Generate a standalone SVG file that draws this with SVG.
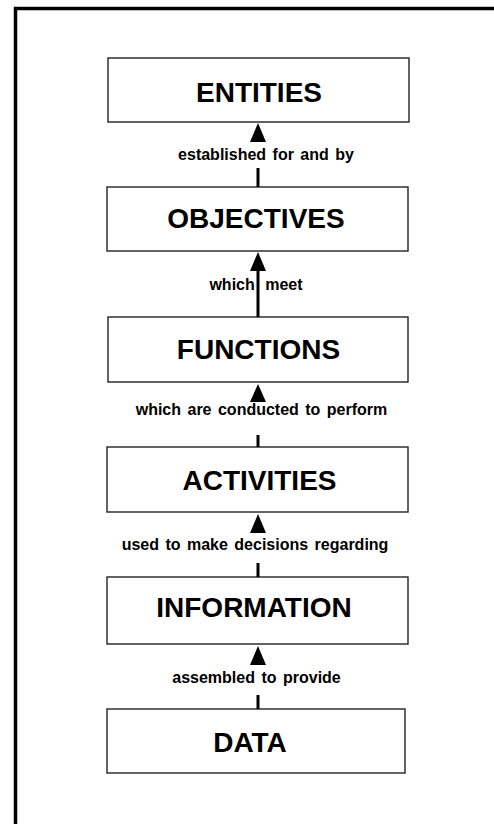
<svg xmlns="http://www.w3.org/2000/svg" width="494" height="824" viewBox="0 0 494 824">
  <style>
    .box { fill: #fff; stroke: #222; stroke-width: 1.4; }
    .name { font-family: "Liberation Sans", Arial, sans-serif; font-weight: bold; font-size: 28px; fill: #000; text-anchor: middle; }
    .lbl { font-family: "Liberation Sans", Arial, sans-serif; font-weight: bold; font-size: 16px; fill: #000; text-anchor: middle; word-spacing: 2px; }
    .stem { stroke: #000; stroke-width: 3; fill: none; }
    .head { fill: #000; }
  </style>
  <rect width="494" height="824" fill="#fff"/>
  <!-- page frame, open at right and bottom -->
  <path d="M15.5 830 V8.5 H500" fill="none" stroke="#000" stroke-width="3.5"/>

  <g id="entities">
    <rect class="box" x="108" y="58" width="301" height="64"/>
    <text class="name" x="259" y="102">ENTITIES</text>
  </g>
  <g id="objectives">
    <rect class="box" x="107" y="187" width="301" height="64"/>
    <text class="name" x="256" y="228">OBJECTIVES</text>
  </g>
  <g id="functions">
    <rect class="box" x="108" y="317" width="300" height="65"/>
    <text class="name" x="258.5" y="359">FUNCTIONS</text>
  </g>
  <g id="activities">
    <rect class="box" x="107" y="447" width="301" height="65"/>
    <text class="name" x="259.5" y="490">ACTIVITIES</text>
  </g>
  <g id="information">
    <rect class="box" x="107" y="577" width="301" height="67"/>
    <text class="name" x="254" y="617">INFORMATION</text>
  </g>
  <g id="data">
    <rect class="box" x="107" y="709" width="298" height="64"/>
    <text class="name" x="250" y="752">DATA</text>
  </g>

  <g id="connectors">
    <!-- data -> information -->
    <path class="stem" d="M258 709 V695"/>
    <path class="head" d="M258 646 L250 665 H266 Z"/>
    <text class="lbl" x="256.5" y="683">assembled to provide</text>
    <!-- information -> activities -->
    <path class="stem" d="M258 577 V563"/>
    <path class="head" d="M258 514 L250 533 H266 Z"/>
    <text class="lbl" x="255" y="550">used to make decisions regarding</text>
    <!-- activities -> functions -->
    <path class="stem" d="M258 447 V435"/>
    <path class="head" d="M258 384 L250 402 H266 Z"/>
    <text class="lbl" x="261.5" y="415">which are conducted to perform</text>
    <!-- functions -> objectives -->
    <path class="stem" d="M258 317 V266"/>
    <path class="head" d="M258 252 L250 271 H266 Z"/>
    <text class="lbl" x="256" y="290" style="word-spacing:6px">which meet</text>
    <!-- objectives -> entities -->
    <path class="stem" d="M258 187 V168"/>
    <path class="head" d="M258 123 L250 142 H266 Z"/>
    <text class="lbl" x="266" y="160">established for and by</text>
  </g>
</svg>
